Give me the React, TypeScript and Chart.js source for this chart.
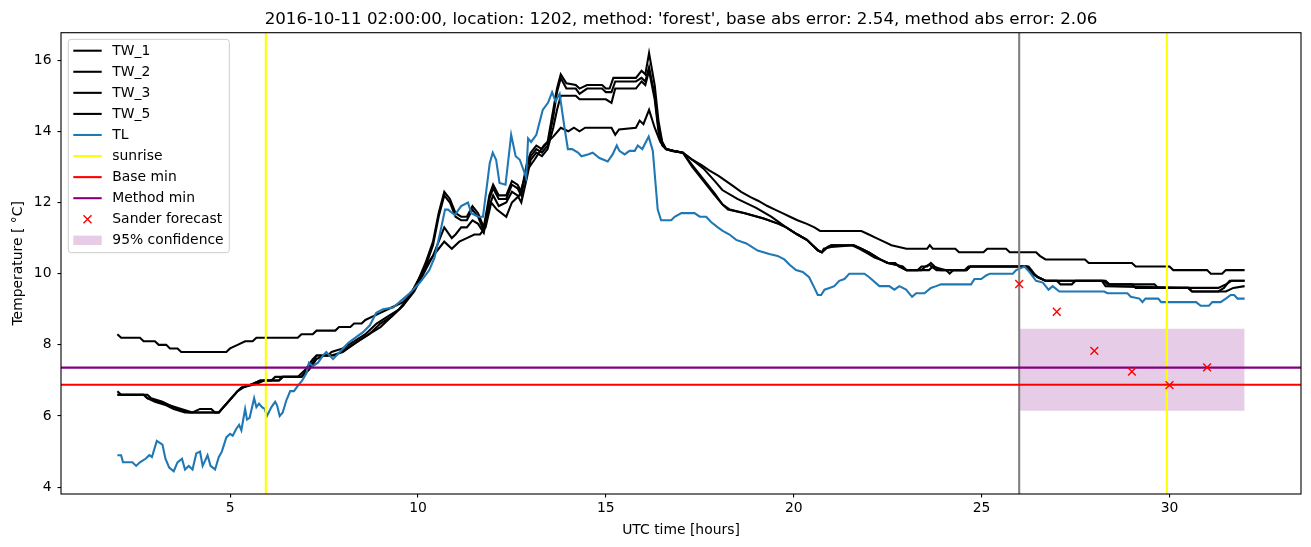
import { useEffect, useRef } from 'react';
import { Chart, registerables } from 'chart.js';

Chart.register(...registerables);

const TITLE = "2016-10-11 02:00:00, location: 1202, method: 'forest', base abs error: 2.54, method abs error: 2.06";
const X_LABEL = 'UTC time [hours]';
const Y_LABEL = 'Temperature [ °C]';
const X_TICKS = [5, 10, 15, 20, 25, 30];
const Y_TICKS = [4, 6, 8, 10, 12, 14, 16];
const X_RANGE = [0.5, 33.5];
const Y_RANGE = [3.81, 16.77];

// [hour, temperature]
const TW_1: [number, number][] = [[2.0,6.7],[2.1,6.6],[2.7,6.6],[2.8,6.5],[3.1,6.4],[3.4,6.3],[3.6,6.2],[3.9,6.1],[4.7,6.1],[5.2,6.7],[5.3,6.8],[5.6,6.9],[5.8,7.0],[6.1,7.0],[6.2,7.1],[6.8,7.1],[7.0,7.3],[7.2,7.6],[7.3,7.7],[7.6,7.7],[7.7,7.8],[8.0,7.9],[8.3,8.1],[8.6,8.3],[8.9,8.6],[9.2,8.8],[9.5,9.0],[9.8,9.4],[10.0,9.8],[10.2,10.3],[10.4,10.9],[10.55,11.7],[10.7,12.3],[10.85,12.1],[11.0,11.7],[11.15,11.6],[11.3,11.6],[11.45,11.9],[11.6,11.7],[11.75,11.3],[11.9,12.2],[12.0,12.5],[12.15,12.2],[12.35,12.2],[12.5,12.6],[12.65,12.5],[12.75,12.3],[12.9,13.1],[13.0,13.4],[13.15,13.6],[13.3,13.5],[13.45,13.7],[13.6,14.6],[13.7,15.2],[13.8,15.6],[13.95,15.35],[14.2,15.3],[14.3,15.2],[14.5,15.3],[14.9,15.3],[15.0,15.2],[15.1,15.2],[15.2,15.5],[15.8,15.5],[15.95,15.7],[16.05,15.6],[16.15,16.2],[16.3,15.3],[16.4,14.3],[16.5,13.7],[16.6,13.5],[16.8,13.45],[17.05,13.4],[17.3,13.0],[17.6,12.6],[17.9,12.2],[18.1,11.95],[18.25,11.8],[18.7,11.7],[19.2,11.55],[19.6,11.4],[19.8,11.3],[20.1,11.1],[20.35,10.95],[20.5,10.8],[20.65,10.65],[20.75,10.6],[20.85,10.7],[21.0,10.8],[21.6,10.8],[21.8,10.7],[22.0,10.6],[22.15,10.5],[22.3,10.4],[22.5,10.3],[22.7,10.3],[22.8,10.2],[23.0,10.1],[23.3,10.1],[23.4,10.2],[23.55,10.2],[23.65,10.3],[23.75,10.2],[23.9,10.1],[24.6,10.1],[24.7,10.2],[26.2,10.2],[26.35,10.0],[26.5,9.9],[26.7,9.8],[28.25,9.8],[28.35,9.7],[29.0,9.7],[29.1,9.6],[30.5,9.6],[30.6,9.5],[31.3,9.5],[31.45,9.6],[31.6,9.8],[32.0,9.8]];

const TW_2: [number, number][] = [[2.0,6.6],[2.8,6.6],[2.9,6.5],[3.2,6.4],[3.4,6.3],[3.7,6.2],[4.0,6.1],[4.2,6.2],[4.5,6.2],[4.6,6.1],[4.7,6.1],[5.2,6.7],[5.3,6.8],[5.7,6.9],[5.9,7.0],[6.3,7.0],[6.4,7.1],[6.9,7.1],[7.2,7.5],[7.3,7.7],[7.7,7.7],[8.0,7.8],[8.4,8.1],[8.7,8.3],[9.0,8.6],[9.3,8.8],[9.6,9.1],[9.9,9.6],[10.0,9.8],[10.2,10.2],[10.4,10.8],[10.55,11.6],[10.7,12.2],[10.85,12.0],[11.0,11.6],[11.15,11.5],[11.3,11.5],[11.45,11.8],[11.6,11.6],[11.75,11.2],[11.9,12.1],[12.0,12.4],[12.15,12.1],[12.35,12.1],[12.5,12.5],[12.65,12.4],[12.75,12.2],[12.9,13.0],[13.0,13.3],[13.15,13.5],[13.3,13.4],[13.45,13.6],[13.6,14.4],[13.7,15.1],[13.8,15.5],[13.95,15.2],[14.2,15.2],[14.3,15.05],[14.5,15.2],[14.9,15.2],[15.0,15.1],[15.15,15.1],[15.25,15.4],[15.8,15.4],[15.95,15.5],[16.05,15.4],[16.15,15.8],[16.3,15.0],[16.4,14.1],[16.5,13.7],[16.6,13.5],[16.8,13.45],[17.05,13.4],[17.3,13.2],[17.6,12.95],[17.9,12.6],[18.1,12.35],[18.5,12.1],[19.0,11.85],[19.4,11.6],[19.8,11.3],[20.1,11.1],[20.35,10.95],[20.5,10.8],[20.65,10.65],[20.75,10.6],[20.9,10.75],[21.0,10.8],[21.55,10.8],[21.75,10.7],[22.0,10.55],[22.15,10.45],[22.3,10.4],[22.5,10.3],[22.75,10.25],[22.85,10.2],[23.0,10.1],[23.6,10.1],[23.7,10.2],[24.05,10.1],[24.15,10.0],[24.25,10.1],[24.55,10.1],[24.65,10.2],[26.25,10.2],[26.4,10.0],[26.5,9.9],[26.7,9.8],[27.0,9.8],[27.1,9.7],[27.4,9.7],[27.5,9.8],[28.3,9.8],[28.4,9.7],[29.6,9.7],[29.7,9.6],[31.3,9.6],[31.5,9.7],[31.65,9.8],[32.0,9.8]];

const TW_3: [number, number][] = [[2.0,6.6],[2.7,6.6],[2.8,6.5],[3.0,6.4],[3.3,6.3],[3.5,6.2],[3.8,6.1],[4.7,6.1],[5.2,6.7],[5.35,6.8],[5.6,6.9],[5.8,7.0],[6.3,7.0],[6.4,7.1],[6.9,7.1],[7.1,7.3],[7.3,7.6],[7.5,7.7],[7.8,7.7],[8.1,7.9],[8.4,8.1],[8.7,8.3],[9.0,8.5],[9.3,8.8],[9.6,9.1],[9.9,9.5],[10.0,9.7],[10.2,10.1],[10.4,10.5],[10.55,10.9],[10.7,11.3],[10.9,11.0],[11.0,11.1],[11.15,11.3],[11.3,11.3],[11.45,11.5],[11.6,11.4],[11.75,11.15],[11.9,11.9],[12.0,12.2],[12.15,11.9],[12.35,12.0],[12.5,12.3],[12.65,12.2],[12.75,12.0],[12.9,12.7],[13.0,13.2],[13.15,13.4],[13.3,13.3],[13.45,13.5],[13.6,14.1],[13.7,14.6],[13.8,15.0],[13.95,15.0],[14.2,15.0],[14.3,14.9],[15.0,14.9],[15.15,14.8],[15.25,15.2],[15.8,15.2],[15.95,15.4],[16.05,15.3],[16.15,15.7],[16.3,14.9],[16.4,14.0],[16.5,13.6],[16.6,13.5],[16.8,13.45],[17.05,13.4],[17.3,13.05],[17.6,12.65],[17.9,12.25],[18.1,11.95],[18.3,11.8],[18.7,11.7],[19.2,11.55],[19.6,11.4],[19.8,11.3],[20.1,11.1],[20.35,10.95],[20.5,10.8],[20.65,10.65],[20.75,10.6],[20.8,10.7],[21.0,10.75],[21.6,10.8],[21.8,10.7],[22.0,10.6],[22.15,10.5],[22.3,10.4],[22.5,10.3],[22.9,10.2],[23.0,10.1],[23.4,10.1],[23.5,10.2],[23.6,10.25],[23.8,10.1],[24.6,10.1],[24.7,10.2],[26.2,10.2],[26.3,10.05],[26.5,9.9],[26.7,9.8],[28.2,9.8],[28.3,9.65],[30.3,9.6],[30.5,9.6],[30.6,9.5],[31.5,9.5],[31.7,9.6],[32.0,9.65]];

const TW_5: [number, number][] = [[2.0,8.3],[2.1,8.2],[2.6,8.2],[2.7,8.1],[3.0,8.1],[3.1,8.0],[3.3,8.0],[3.4,7.9],[3.6,7.9],[3.7,7.8],[4.9,7.8],[5.0,7.9],[5.2,8.0],[5.4,8.1],[5.6,8.1],[5.7,8.2],[6.8,8.2],[6.9,8.3],[7.2,8.3],[7.3,8.4],[7.8,8.4],[7.9,8.5],[8.2,8.5],[8.3,8.6],[8.5,8.6],[8.6,8.7],[8.8,8.8],[9.0,8.9],[9.2,9.0],[9.4,9.1],[9.6,9.2],[9.8,9.4],[10.0,9.8],[10.2,10.2],[10.4,10.5],[10.55,10.7],[10.7,10.9],[10.9,10.7],[11.1,10.9],[11.3,11.0],[11.5,11.1],[11.65,11.1],[11.8,11.3],[11.95,12.0],[12.1,11.8],[12.35,11.6],[12.5,12.0],[12.7,12.2],[12.9,12.9],[13.1,13.2],[13.35,13.6],[13.6,13.85],[13.8,14.1],[14.0,14.0],[14.15,14.1],[14.3,14.0],[14.45,14.1],[15.15,14.1],[15.25,13.9],[15.35,14.05],[15.8,14.1],[15.9,14.3],[16.0,14.2],[16.15,14.6],[16.3,14.1],[16.45,13.7],[16.6,13.5],[16.75,13.45],[17.05,13.4],[17.3,13.2],[17.55,13.05],[17.75,12.9],[18.0,12.75],[18.2,12.6],[18.4,12.45],[18.6,12.3],[18.85,12.15],[19.05,12.05],[19.3,11.9],[19.5,11.8],[19.7,11.7],[19.9,11.6],[20.1,11.5],[20.35,11.4],[20.55,11.3],[20.7,11.2],[21.8,11.2],[22.0,11.1],[22.2,11.0],[22.4,10.9],[22.6,10.8],[23.0,10.7],[23.55,10.7],[23.62,10.8],[23.7,10.7],[24.3,10.7],[24.4,10.6],[25.05,10.6],[25.15,10.7],[25.65,10.7],[25.75,10.6],[26.45,10.6],[26.55,10.5],[26.7,10.4],[27.75,10.4],[27.85,10.3],[29.0,10.3],[29.1,10.2],[30.0,10.2],[30.1,10.1],[31.0,10.1],[31.1,10.0],[31.4,10.0],[31.5,10.1],[32.0,10.1]];

const TL: [number, number][] = [[2.0,4.9],[2.1,4.9],[2.15,4.7],[2.4,4.7],[2.5,4.6],[2.6,4.7],[2.75,4.8],[2.85,4.9],[2.92,4.85],[3.05,5.3],[3.2,5.2],[3.28,4.8],[3.38,4.55],[3.5,4.45],[3.6,4.7],[3.72,4.8],[3.8,4.5],[3.9,4.6],[4.0,4.5],[4.1,4.95],[4.2,5.0],[4.27,4.6],[4.4,4.9],[4.48,4.6],[4.6,4.5],[4.7,4.85],[4.78,5.0],[4.9,5.4],[5.0,5.5],[5.07,5.45],[5.17,5.65],[5.24,5.75],[5.3,5.6],[5.4,6.2],[5.45,5.9],[5.52,5.95],[5.64,6.5],[5.7,6.25],[5.77,6.35],[5.85,6.25],[5.92,6.2],[5.98,6.0],[6.1,6.25],[6.2,6.4],[6.25,6.3],[6.32,6.0],[6.4,6.1],[6.5,6.45],[6.6,6.7],[6.7,6.7],[6.8,6.85],[6.92,7.0],[7.03,7.2],[7.1,7.5],[7.2,7.4],[7.34,7.5],[7.47,7.7],[7.56,7.8],[7.74,7.6],[7.92,7.8],[8.14,8.05],[8.4,8.25],[8.53,8.35],[8.72,8.55],[8.89,8.9],[9.07,9.0],[9.34,9.05],[9.56,9.25],[9.78,9.45],[10.05,9.75],[10.3,10.1],[10.44,10.45],[10.6,11.2],[10.72,11.8],[10.8,11.8],[10.98,11.65],[11.15,11.9],[11.33,12.0],[11.42,11.7],[11.6,11.6],[11.73,11.6],[11.91,13.1],[11.99,13.4],[12.08,13.2],[12.17,12.55],[12.33,12.5],[12.48,13.9],[12.6,13.3],[12.71,13.2],[12.88,12.7],[12.93,13.8],[13.01,13.7],[13.15,13.9],[13.32,14.6],[13.46,14.8],[13.57,15.1],[13.66,14.85],[13.77,15.05],[13.9,14.1],[13.99,13.5],[14.1,13.5],[14.26,13.4],[14.35,13.3],[14.52,13.35],[14.65,13.4],[14.83,13.25],[15.05,13.15],[15.18,13.35],[15.29,13.6],[15.36,13.45],[15.5,13.35],[15.63,13.45],[15.77,13.45],[15.85,13.6],[15.97,13.5],[16.14,13.85],[16.25,13.45],[16.38,11.8],[16.47,11.5],[16.74,11.5],[16.83,11.6],[17.01,11.7],[17.36,11.7],[17.5,11.6],[17.67,11.6],[17.8,11.45],[17.98,11.3],[18.11,11.2],[18.29,11.1],[18.47,10.95],[18.74,10.85],[19.04,10.65],[19.35,10.55],[19.57,10.5],[19.75,10.4],[19.89,10.25],[20.06,10.1],[20.24,10.05],[20.41,9.9],[20.55,9.6],[20.64,9.4],[20.73,9.4],[20.82,9.55],[20.95,9.6],[21.08,9.65],[21.21,9.8],[21.35,9.85],[21.48,10.0],[21.88,10.0],[22.01,9.9],[22.28,9.65],[22.54,9.65],[22.68,9.55],[22.81,9.65],[22.99,9.55],[23.15,9.35],[23.26,9.45],[23.48,9.45],[23.65,9.6],[23.79,9.65],[23.92,9.7],[24.72,9.7],[24.81,9.85],[24.99,9.85],[25.12,9.95],[25.22,10.0],[25.83,10.0],[25.92,10.1],[26.14,10.2],[26.27,10.05],[26.45,9.8],[26.63,9.75],[26.78,9.55],[26.89,9.65],[27.07,9.5],[28.26,9.5],[28.35,9.45],[28.88,9.45],[28.97,9.35],[29.2,9.3],[29.28,9.2],[29.36,9.3],[29.7,9.3],[29.78,9.2],[30.71,9.2],[30.83,9.1],[31.05,9.1],[31.14,9.2],[31.36,9.2],[31.5,9.3],[31.63,9.4],[31.72,9.4],[31.81,9.3],[32.0,9.3]];

const SUNRISE_HOURS = [5.95, 29.93];
const FORECAST_START = 26;
const BASE_MIN = 6.88;
const METHOD_MIN = 7.36;
const SANDER_HOURS = [26, 27, 28, 29, 30, 31];
const SANDER_TEMPS = [9.71, 8.93, 7.83, 7.25, 6.87, 7.37];
const CONF_HOURS = [26, 32];
const CONF_LOW = 6.15;
const CONF_HIGH = 8.45;

const LEGEND_LABELS = ['TW_1', 'TW_2', 'TW_3', 'TW_5', 'TL', 'sunrise', 'Base min', 'Method min', 'Sander forecast', '95% confidence'];

const BLUE = '#1f77b4';
const YELLOW = '#ffff00';
const RED = '#ff0000';
const PURPLE = '#800080';
const GREY = '#808080';
const BAND = 'rgba(128,0,128,0.2)';
const LW = 2.08;
const FONT = '"DejaVu Sans", "Liberation Sans", sans-serif';
const FS = 13.9;

const toXY = (pts: [number, number][]) => pts.map(([x, y]) => ({ x, y }));

const lineDs = (data: any[], color: string, order: number, width = LW) => ({
  data,
  borderColor: color,
  backgroundColor: color,
  borderWidth: width,
  pointRadius: 0,
  pointHoverRadius: 0,
  fill: false,
  tension: 0,
  order,
});

const overlayPlugin = {
  id: 'overlay',
  afterDraw(chart: any) {
    const ctx = chart.ctx as CanvasRenderingContext2D;
    const { left, right, top, bottom } = chart.chartArea;
    ctx.save();
    // spines
    ctx.strokeStyle = '#000';
    ctx.lineWidth = 1.1;
    ctx.strokeRect(left, top, right - left, bottom - top);
    // title
    ctx.fillStyle = '#000';
    ctx.font = `16.7px ${FONT}`;
    ctx.textAlign = 'center';
    ctx.textBaseline = 'alphabetic';
    ctx.fillText(TITLE, (left + right) / 2, top - 8.4);
    // x label
    ctx.font = `${FS}px ${FONT}`;
    ctx.fillText(X_LABEL, (left + right) / 2, 534);
    // y label
    ctx.save();
    ctx.translate(22, (top + bottom) / 2);
    ctx.rotate(-Math.PI / 2);
    ctx.fillText(Y_LABEL, 0, 0);
    ctx.restore();

    // legend
    const bx = 68.3, by = 39.3, bw = 161, bh = 213.4, r = 3;
    ctx.beginPath();
    ctx.moveTo(bx + r, by);
    ctx.lineTo(bx + bw - r, by);
    ctx.quadraticCurveTo(bx + bw, by, bx + bw, by + r);
    ctx.lineTo(bx + bw, by + bh - r);
    ctx.quadraticCurveTo(bx + bw, by + bh, bx + bw - r, by + bh);
    ctx.lineTo(bx + r, by + bh);
    ctx.quadraticCurveTo(bx, by + bh, bx, by + bh - r);
    ctx.lineTo(bx, by + r);
    ctx.quadraticCurveTo(bx, by, bx + r, by);
    ctx.closePath();
    ctx.fillStyle = 'rgba(255,255,255,0.8)';
    ctx.fill();
    ctx.strokeStyle = '#cccccc';
    ctx.lineWidth = 1;
    ctx.stroke();

    const colors = ['#000', '#000', '#000', '#000', BLUE, YELLOW, RED, PURPLE];
    const hx0 = 73.3, hx1 = 101.7, tx = 112.3;
    ctx.textAlign = 'left';
    ctx.textBaseline = 'middle';
    LEGEND_LABELS.forEach((label, i) => {
      const cy = 50.7 + i * 21.07;
      if (i < 8) {
        ctx.strokeStyle = colors[i];
        ctx.lineWidth = LW;
        ctx.beginPath();
        ctx.moveTo(hx0, cy);
        ctx.lineTo(hx1, cy);
        ctx.stroke();
      } else if (i === 8) {
        const cx = (hx0 + hx1) / 2, s = 4;
        ctx.strokeStyle = RED;
        ctx.lineWidth = 1.4;
        ctx.beginPath();
        ctx.moveTo(cx - s, cy - s);
        ctx.lineTo(cx + s, cy + s);
        ctx.moveTo(cx - s, cy + s);
        ctx.lineTo(cx + s, cy - s);
        ctx.stroke();
      } else {
        ctx.fillStyle = BAND;
        ctx.fillRect(hx0, cy - 4.7, hx1 - hx0, 9.4);
      }
      ctx.fillStyle = '#000';
      ctx.fillText(label, tx, cy + 0.5);
    });
    ctx.restore();
  },
};

export default function App() {
  const ref = useRef<HTMLCanvasElement | null>(null);
  useEffect(() => {
    if (!ref.current) return;
    const [yMin, yMax] = Y_RANGE;
    const [xMin, xMax] = X_RANGE;
    const datasets: any[] = [
      { ...lineDs(CONF_HOURS.map((x) => ({ x, y: CONF_HIGH })), 'rgba(0,0,0,0)', 100, 0) },
      { ...lineDs(CONF_HOURS.map((x) => ({ x, y: CONF_LOW })), 'rgba(0,0,0,0)', 100, 0), fill: '-1', backgroundColor: BAND },
      lineDs(toXY(TW_1), '#000', 50),
      lineDs(toXY(TW_2), '#000', 50),
      lineDs(toXY(TW_3), '#000', 50),
      lineDs(toXY(TW_5), '#000', 50),
      lineDs(toXY(TL), BLUE, 40),
      lineDs([{ x: FORECAST_START, y: yMin }, { x: FORECAST_START, y: yMax }], GREY, 35),
      ...SUNRISE_HOURS.map((h) => lineDs([{ x: h, y: yMin }, { x: h, y: yMax }], YELLOW, 30)),
      lineDs([{ x: xMin, y: BASE_MIN }, { x: xMax, y: BASE_MIN }], RED, 20),
      lineDs([{ x: xMin, y: METHOD_MIN }, { x: xMax, y: METHOD_MIN }], PURPLE, 20),
      {
        data: SANDER_HOURS.map((x, i) => ({ x, y: SANDER_TEMPS[i] })),
        showLine: false,
        pointStyle: 'crossRot',
        pointRadius: 5.5,
        pointBorderWidth: 1.4,
        borderColor: RED,
        backgroundColor: RED,
        order: 10,
      },
    ];
    const axisCommon = {
      type: 'linear' as const,
      border: { display: false },
      grid: {
        display: true,
        drawOnChartArea: false,
        drawTicks: true,
        tickLength: 3.5,
        tickWidth: 1.1,
        tickColor: '#000',
        color: '#000',
        lineWidth: 1.1,
      },
    };
    const chart = new Chart(ref.current, {
      type: 'line',
      data: { datasets },
      options: {
        responsive: false,
        animation: false,
        events: [],
        layout: { padding: { top: 32.7, right: 10, left: 0, bottom: 0 } },
        plugins: { legend: { display: false }, title: { display: false }, tooltip: { enabled: false } },
        scales: {
          x: {
            ...axisCommon,
            min: xMin,
            max: xMax,
            afterBuildTicks: (a: any) => {
              a.ticks = X_TICKS.map((v) => ({ value: v }));
            },
            afterFit: (s: any) => {
              s.height = 53;
            },
            ticks: { color: '#000', font: { family: FONT, size: FS }, padding: 3, maxRotation: 0, autoSkip: false, callback: (v: any) => String(v) },
          },
          y: {
            ...axisCommon,
            min: yMin,
            max: yMax,
            afterBuildTicks: (a: any) => {
              a.ticks = Y_TICKS.map((v) => ({ value: v }));
            },
            afterFit: (s: any) => {
              s.width = 61;
            },
            ticks: { color: '#000', font: { family: FONT, size: FS }, padding: 6, autoSkip: false, callback: (v: any) => String(v) },
          },
        },
      } as any,
      plugins: [overlayPlugin],
    });
    return () => chart.destroy();
  }, []);
  return (
    <div style={{ position: 'absolute', left: 0, top: 0, width: 1311, height: 547, background: '#fff' }}>
      <canvas ref={ref} width={1311} height={547} style={{ width: 1311, height: 547, display: 'block' }} />
    </div>
  );
}
